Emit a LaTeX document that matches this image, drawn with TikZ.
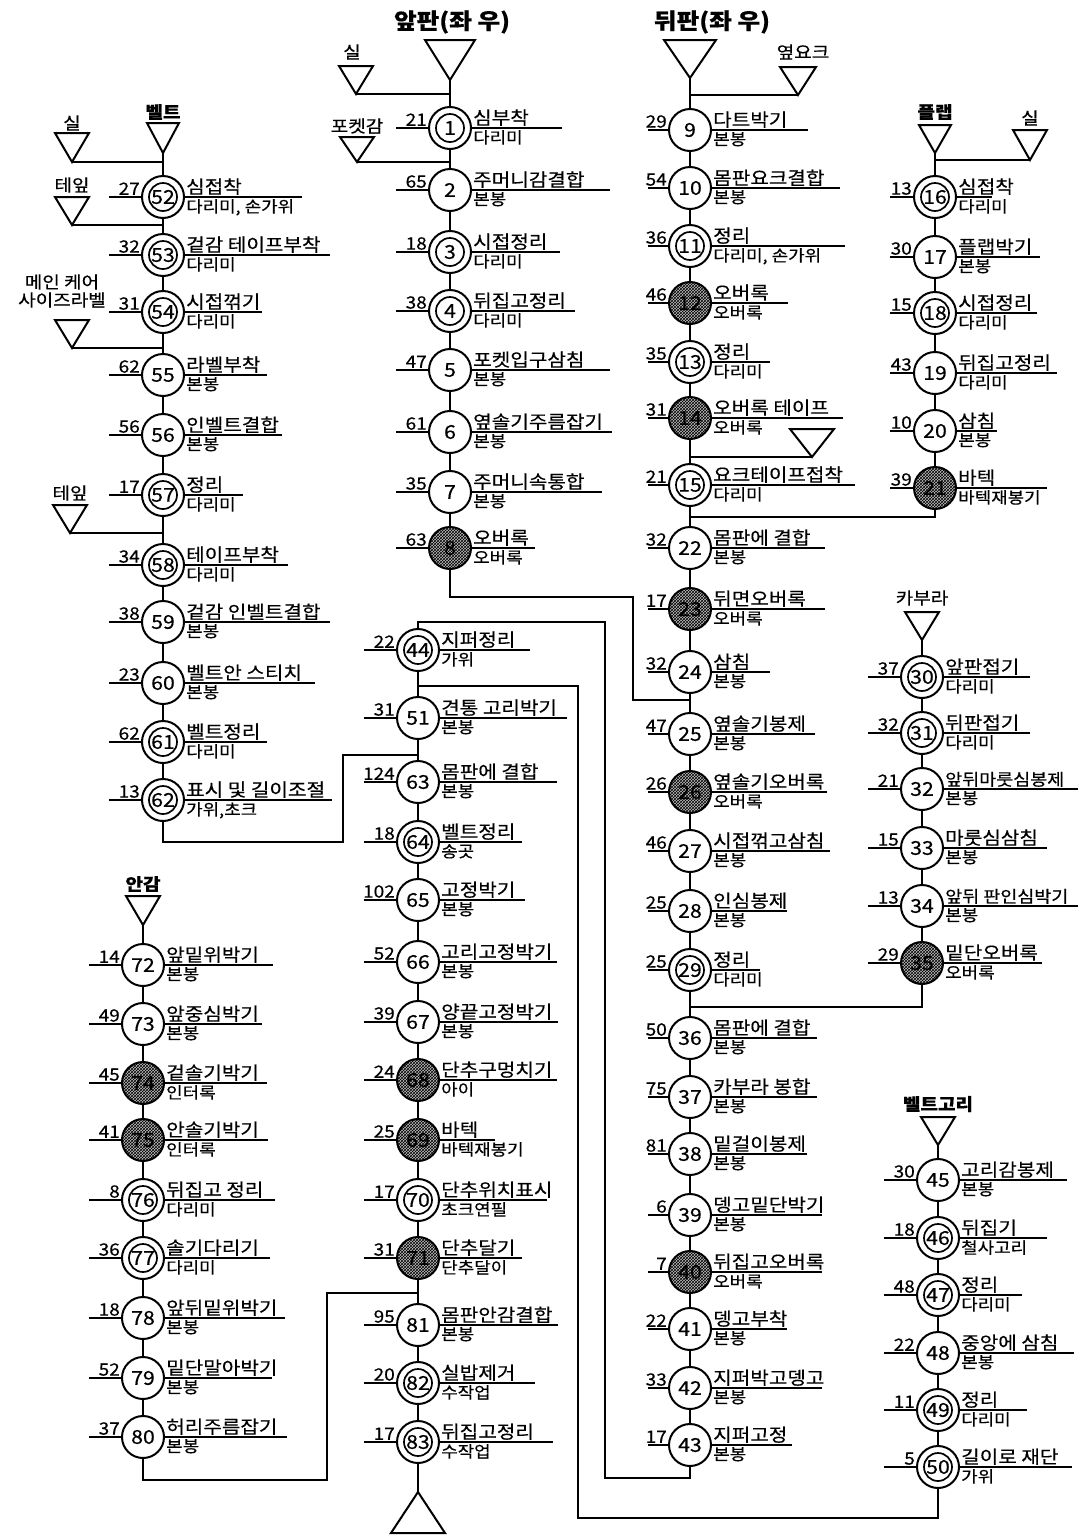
\documentclass[tikz,border=0pt]{standalone}
\usepackage{fontspec}
\setmainfont{Noto Sans CJK KR}[FakeStretch=1.12,FakeBold=0.4]
\usetikzlibrary{patterns}
\begin{document}
\begin{tikzpicture}[x=1pt,y=-1pt,
  lw/.style={line width=2pt},
  pcs/.style={circle, draw, line width=2pt, minimum size=42pt, inner sep=0pt, fill=white, font=\fontsize{19}{19}\selectfont},
  pcd/.style={pcs, path picture={\draw[line width=1.7pt] (path picture bounding box.center) circle[radius=14pt];}},
  pch/.style={circle, draw, line width=2pt, minimum size=42pt, inner sep=0pt, preaction={fill=gray!50}, pattern=crosshatch, pattern color=black, font=\fontsize{19}{19}\selectfont},
  numlab/.style={font=\fontsize{17}{17}\selectfont, inner sep=1pt},
  uptxt/.style={font=\fontsize{18}{18}\selectfont, inner sep=1pt},
  lowtxt/.style={font=\fontsize{16}{16}\selectfont, inner sep=1pt},
  lab/.style={font=\fontsize{17}{18}\selectfont, inner sep=0pt, align=center},
  blab/.style={lab, font=\fontsize{17}{18}\selectfont\bfseries},
  ttl/.style={font=\fontsize{22}{22}\selectfont\bfseries, inner sep=0pt}
]
\useasboundingbox (0,0) rectangle (1081,1540);
\fill[white] (0,0) rectangle (1081,1540);

\def\lln{54}
\newcommand\proc[8]{%
  \node[pc#4] (n#1) at (#2,#3) {#1};
  \draw[lw] ({#2-\lln},#3) -- (n#1.west);
  \node[numlab, anchor=south east] (n#1k) at ({#2-22},{#3-1}) {#5};
  \draw[lw] (n#1.east) -- (#8,#3);
  \node[uptxt, anchor=south west] (n#1u) at ({#2+22},{#3-1}) {#6};
  \node[lowtxt, anchor=north west] (n#1l) at ({#2+22},{#3+1}) {#7};
}
\newcommand\tri[5]{%
  \coordinate (#1) at (#2,#3);
  \draw[lw] (#1) -- ++({-#4},{-#5}) -- ++({2*#4},0) -- cycle;
}
\newcommand\chain[1]{\foreach \a/\b in {#1} {\draw[lw] (\a) -- (\b);}}

% ---------- titles ----------
\node[ttl] (ttf) at (452,22) {앞판(좌 우)};
\node[ttl] (ttb) at (712,22) {뒤판(좌 우)};

% ---------- left column (belt) ----------
\node[lab] (lsil1) at (72,123) {실};
\tri{tsil1}{72}{162}{17}{29}
\node[blab] (lbelt) at (163,112) {벨트};
\tri{tbelt}{163}{153}{16}{30}
\coordinate (j52) at (163,162);
\draw[lw] (tsil1) -- (j52);
\node[lab] (ltape1) at (72,185) {테잎};
\tri{ttape1}{72}{225}{17}{28}
\coordinate (j53) at (163,225);
\draw[lw] (ttape1) -- (j53);
\node[lab] (lcare) at (62,291) {메인 케어\\사이즈라벨};
\tri{tcare}{72}{348}{17}{28}
\coordinate (j55) at (163,348);
\draw[lw] (tcare) -- (j55);
\node[lab] (ltape2) at (70,493) {테잎};
\tri{ttape2}{70}{533}{17}{28}
\coordinate (j58) at (163,533);
\draw[lw] (ttape2) -- (j58);

\proc{52}{163}{197}{d}{27}{심접착}{다리미, 손가위}{302}
\proc{53}{163}{255}{d}{32}{겉감 테이프부착}{다리미}{330}
\proc{54}{163}{312}{d}{31}{시접꺾기}{다리미}{262}
\proc{55}{163}{375}{s}{62}{라벨부착}{본봉}{267}
\proc{56}{163}{435}{s}{56}{인벨트결합}{본봉}{282}
\proc{57}{163}{495}{d}{17}{정리}{다리미}{243}
\proc{58}{163}{565}{d}{34}{테이프부착}{다리미}{288}
\proc{59}{163}{622}{s}{38}{겉감 인벨트결합}{본봉}{330}
\proc{60}{163}{683}{s}{23}{벨트안 스티치}{본봉}{315}
\proc{61}{163}{742}{d}{62}{벨트정리}{다리미}{267}
\proc{62}{163}{800}{d}{13}{표시 및 길이조절}{가위,초크}{332}
\chain{tbelt/n52,n52/n53,n53/n54,n54/n55,n55/n56,n56/n57,n57/n58,n58/n59,n59/n60,n60/n61,n61/n62}

% ---------- left bottom column (lining) ----------
\node[blab] (lang) at (143,884) {안감};
\tri{tang}{143}{925}{17}{29}
\proc{72}{143}{965}{s}{14}{앞밑위박기}{본봉}{273}
\proc{73}{143}{1024}{s}{49}{앞중심박기}{본봉}{262}
\proc{74}{143}{1083}{h}{45}{겉솔기박기}{인터록}{267}
\proc{75}{143}{1140}{h}{41}{안솔기박기}{인터록}{268}
\proc{76}{143}{1200}{d}{8}{뒤집고 정리}{다리미}{275}
\proc{77}{143}{1258}{d}{36}{솔기다리기}{다리미}{270}
\proc{78}{143}{1318}{s}{18}{앞뒤밑위박기}{본봉}{285}
\proc{79}{143}{1378}{s}{52}{밑단말아박기}{본봉}{272}
\proc{80}{143}{1437}{s}{37}{허리주름잡기}{본봉}{287}
\chain{tang/n72,n72/n73,n73/n74,n74/n75,n75/n76,n76/n77,n77/n78,n78/n79,n79/n80}

% ---------- centre top column (front) ----------
\tri{tfront}{450}{80}{25}{40}
\node[lab] (lsil2) at (352,52) {실};
\tri{tsil2}{356}{94}{17}{28}
\coordinate (j1) at (450,94);
\draw[lw] (tsil2) -- (j1);
\node[lab] (lpock) at (357,126) {포켓감};
\tri{tpock}{357}{162}{17}{25}
\coordinate (j2) at (450,162);
\draw[lw] (tpock) -- (j2);
\proc{1}{450}{128}{d}{21}{심부착}{다리미}{562}
\proc{2}{450}{190}{s}{65}{주머니감결합}{본봉}{610}
\proc{3}{450}{252}{d}{18}{시접정리}{다리미}{560}
\proc{4}{450}{311}{d}{38}{뒤집고정리}{다리미}{575}
\proc{5}{450}{370}{s}{47}{포켓입구삼침}{본봉}{610}
\proc{6}{450}{432}{s}{61}{옆솔기주름잡기}{본봉}{612}
\proc{7}{450}{492}{s}{35}{주머니속통합}{본봉}{602}
\proc{8}{450}{548}{h}{63}{오버록}{오버록}{535}
\chain{tfront/n1,n1/n2,n2/n3,n3/n4,n4/n5,n5/n6,n6/n7,n7/n8}

% ---------- centre bottom column ----------
\proc{44}{418}{650}{d}{22}{지퍼정리}{가위}{530}
\proc{51}{418}{718}{s}{31}{견통 고리박기}{본봉}{567}
\proc{63}{418}{782}{s}{124}{몸판에 결합}{본봉}{557}
\proc{64}{418}{842}{d}{18}{벨트정리}{송곳}{522}
\proc{65}{418}{900}{s}{102}{고정박기}{본봉}{525}
\proc{66}{418}{962}{s}{52}{고리고정박기}{본봉}{557}
\proc{67}{418}{1022}{s}{39}{양끝고정박기}{본봉}{558}
\proc{68}{418}{1080}{h}{24}{단추구멍치기}{아이}{557}
\proc{69}{418}{1140}{h}{25}{바텍}{바텍재봉기}{495}
\proc{70}{418}{1200}{d}{17}{단추위치표시}{초크연필}{547}
\proc{71}{418}{1258}{h}{31}{단추달기}{단추달이}{522}
\proc{81}{418}{1325}{s}{95}{몸판안감결합}{본봉}{558}
\proc{82}{418}{1383}{d}{20}{실밥제거}{수작업}{535}
\proc{83}{418}{1442}{d}{17}{뒤집고정리}{수작업}{553}
\coordinate (tend) at (418,1492);
\draw[lw] (tend) -- ++(-27,41) -- ++(54,0) -- cycle;
\chain{n44/n51,n51/n63,n63/n64,n64/n65,n65/n66,n66/n67,n67/n68,n68/n69,n69/n70,n70/n71,n71/n81,n81/n82,n82/n83,n83/tend}

% ---------- right-centre column (back) ----------
\def\lln{42}
\tri{tback}{690}{78}{26}{38}
\node[lab] (lyoke) at (803,52) {옆요크};
\tri{tyoke}{798}{95}{18}{28}
\coordinate (j9) at (690,95);
\draw[lw] (tyoke) -- (j9);
\proc{9}{690}{130}{s}{29}{다트박기}{본봉}{808}
\proc{10}{690}{188}{s}{54}{몸판요크결합}{본봉}{840}
\proc{11}{690}{246}{d}{36}{정리}{다리미, 손가위}{845}
\proc{12}{690}{303}{h}{46}{오버록}{오버록}{788}
\proc{13}{690}{362}{d}{35}{정리}{다리미}{770}
\proc{14}{690}{418}{h}{31}{오버록 테이프}{오버록}{843}
\tri{ttape3}{812}{457}{22}{28}
\coordinate (j15) at (690,457);
\draw[lw] (ttape3) -- (j15);
\proc{15}{690}{485}{d}{21}{요크테이프접착}{다리미}{855}
\proc{22}{690}{548}{s}{32}{몸판에 결합}{본봉}{825}
\proc{23}{690}{609}{h}{17}{뒤면오버록}{오버록}{825}
\proc{24}{690}{672}{s}{32}{삼침}{본봉}{770}
\proc{25}{690}{734}{s}{47}{옆솔기봉제}{본봉}{815}
\proc{26}{690}{792}{h}{26}{옆솔기오버록}{오버록}{827}
\proc{27}{690}{851}{s}{46}{시접꺾고삼침}{본봉}{830}
\proc{28}{690}{911}{s}{25}{인심봉제}{본봉}{787}
\proc{29}{690}{970}{d}{25}{정리}{다리미}{760}
\proc{36}{690}{1038}{s}{50}{몸판에 결합}{본봉}{817}
\proc{37}{690}{1097}{s}{75}{카부라 봉합}{본봉}{817}
\proc{38}{690}{1154}{s}{81}{밑걸이봉제}{본봉}{807}
\proc{39}{690}{1215}{s}{6}{뎅고밑단박기}{본봉}{822}
\proc{40}{690}{1272}{h}{7}{뒤집고오버록}{오버록}{822}
\proc{41}{690}{1329}{s}{22}{뎅고부착}{본봉}{787}
\proc{42}{690}{1388}{s}{33}{지퍼박고뎅고}{본봉}{822}
\proc{43}{690}{1445}{s}{17}{지퍼고정}{본봉}{792}
\chain{tback/n9,n9/n10,n10/n11,n11/n12,n12/n13,n13/n14,n14/n15,n15/n22,n22/n23,n23/n24,n24/n25,n25/n26,n26/n27,n27/n28,n28/n29,n29/n36,n36/n37,n37/n38,n38/n39,n39/n40,n40/n41,n41/n42,n42/n43}

% ---------- right top column (flap) ----------
\def\lln{45}
\node[blab] (lflap) at (935,112) {플랩};
\tri{tflap}{935}{153}{16}{28}
\node[lab] (lsil3) at (1030,118) {실};
\tri{tsil3}{1030}{160}{17}{30}
\coordinate (j16) at (935,160);
\draw[lw] (tsil3) -- (j16);
\proc{16}{935}{197}{d}{13}{심접착}{다리미}{992}
\proc{17}{935}{257}{s}{30}{플랩박기}{본봉}{1040}
\proc{18}{935}{313}{d}{15}{시접정리}{다리미}{1037}
\proc{19}{935}{373}{s}{43}{뒤집고정리}{다리미}{1057}
\proc{20}{935}{431}{s}{10}{삼침}{본봉}{997}
\proc{21}{935}{488}{h}{39}{바텍}{바텍재봉기}{1047}
\chain{tflap/n16,n16/n17,n17/n18,n18/n19,n19/n20,n20/n21}

% ---------- right middle column (cuff) ----------
\def\lln{54}
\node[lab] (lkab) at (922,598) {카부라};
\tri{tkab}{922}{640}{17}{28}
\proc{30}{922}{677}{d}{37}{앞판접기}{다리미}{1030}
\proc{31}{922}{733}{d}{32}{뒤판접기}{다리미}{1030}
\proc{32}{922}{789}{s}{21}{{\fontsize{16.5}{16.5}\selectfont 앞뒤마룻심봉제}}{본봉}{1078}
\proc{33}{922}{848}{s}{15}{마룻심삼침}{본봉}{1047}
\proc{34}{922}{906}{s}{13}{{\fontsize{16.5}{16.5}\selectfont 앞뒤 판인심박기}}{본봉}{1078}
\proc{35}{922}{963}{h}{29}{밑단오버록}{오버록}{1042}
\chain{tkab/n30,n30/n31,n31/n32,n32/n33,n33/n34,n34/n35}

% ---------- right bottom column (belt loop) ----------
\node[blab] (lloop) at (938,1104) {벨트고리};
\tri{tloop}{938}{1145}{17}{28}
\proc{45}{938}{1180}{s}{30}{고리감봉제}{본봉}{1067}
\proc{46}{938}{1238}{d}{18}{뒤집기}{철사고리}{1047}
\proc{47}{938}{1295}{d}{48}{정리}{다리미}{1022}
\proc{48}{938}{1353}{s}{22}{중앙에 삼침}{본봉}{1074}
\proc{49}{938}{1410}{d}{11}{정리}{다리미}{1027}
\proc{50}{938}{1467}{d}{5}{길이로 재단}{가위}{1072}
\chain{tloop/n45,n45/n46,n46/n47,n47/n48,n48/n49,n49/n50}

% ---------- joining connectors ----------
\coordinate (a1) at (450,597); \coordinate (a2) at (633,597);
\coordinate (a3) at (633,700); \coordinate (a4) at (690,700);
\draw[lw] (n8) -- (a1) -- (a2) -- (a3) -- (a4);

\coordinate (b1) at (935,517); \coordinate (b2) at (690,517);
\draw[lw] (n21) -- (b1) -- (b2);

\coordinate (c1) at (922,1007); \coordinate (c2) at (690,1007);
\draw[lw] (n35) -- (c1) -- (c2);

\coordinate (d1) at (690,1478); \coordinate (d2) at (605,1478);
\coordinate (d3) at (605,622); \coordinate (d4) at (418,622);
\draw[lw] (n43) -- (d1) -- (d2) -- (d3) -- (d4) -- (n44);

\coordinate (e1) at (938,1518); \coordinate (e2) at (578,1518);
\coordinate (e3) at (578,686); \coordinate (e4) at (418,686);
\draw[lw] (n50) -- (e1) -- (e2) -- (e3) -- (e4);

\coordinate (f1) at (163,842); \coordinate (f2) at (343,842);
\coordinate (f3) at (343,755); \coordinate (f4) at (418,755);
\draw[lw] (n62) -- (f1) -- (f2) -- (f3) -- (f4);

\coordinate (g1) at (143,1480); \coordinate (g2) at (327,1480);
\coordinate (g3) at (327,1293); \coordinate (g4) at (418,1293);
\draw[lw] (n80) -- (g1) -- (g2) -- (g3) -- (g4);
\end{tikzpicture}
\end{document}
